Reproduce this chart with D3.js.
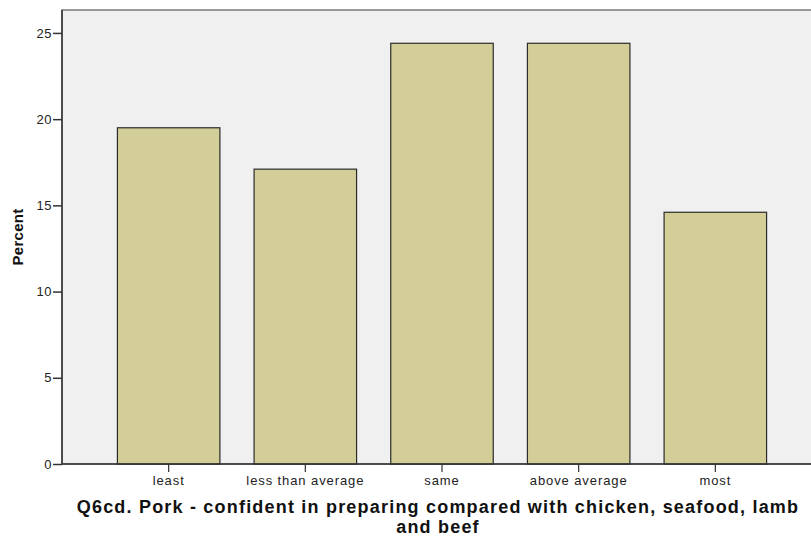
<!DOCTYPE html>
<html>
<head>
<meta charset="utf-8">
<script src="https://cdn.jsdelivr.net/npm/d3@7"></script>
<style>
  html, body { margin: 0; padding: 0; background: #fff; }
  svg { display: block; }
  text { font-family: "Liberation Sans", Arial, sans-serif; }
</style>
</head>
<body>
<svg id="chart" width="811" height="547"></svg>
<script>
const categories = ["least", "less than average", "same", "above average", "most"];
const percents = [19.5, 17.1, 24.4, 24.4, 14.6];
const yTicks = [0, 5, 10, 15, 20, 25];
const yTitle = "Percent";
const xTitleLines = ["Q6cd. Pork - confident in preparing compared with chicken, seafood, lamb", "and beef"];

const svg = d3.select("#chart");
const plot = { left: 62, top: 10, right: 820, bottom: 464 };

const x = d3.scaleBand().domain(categories).range([100.33, 783.67]).paddingInner(0.25).paddingOuter(0.125);
const y = d3.scaleLinear().domain([0, 26.33]).range([plot.bottom, plot.top]);

// plot background
svg.append("rect")
  .attr("x", plot.left).attr("y", plot.top)
  .attr("width", plot.right - plot.left).attr("height", plot.bottom - plot.top)
  .attr("fill", "#f0f0f0")
  .attr("stroke", "#7a7a7a").attr("stroke-width", 1.5);

// bars
svg.append("g").selectAll("rect").data(categories).join("rect")
  .attr("x", d => x(d))
  .attr("y", (d, i) => y(percents[i]))
  .attr("width", x.bandwidth())
  .attr("height", (d, i) => y(0) - y(percents[i]))
  .attr("fill", "#d3ce97")
  .attr("stroke", "#2b2b2b").attr("stroke-width", 1.2);

// y axis
const yAxis = svg.append("g").attr("transform", `translate(${plot.left},0)`)
  .call(d3.axisLeft(y).tickValues(yTicks).tickSize(9).tickPadding(1).tickFormat(d3.format("d")));
yAxis.select(".domain").attr("stroke", "#333").attr("stroke-width", 1.5).attr("d", `M0,${plot.top}V${plot.bottom}`);
yAxis.selectAll(".tick line").attr("stroke", "#333").attr("stroke-width", 1.5);
yAxis.selectAll(".tick text").attr("font-size", 13).attr("letter-spacing", 0.5).attr("fill", "#222")
  .attr("font-family", "Liberation Sans, Arial, sans-serif");

// x axis
const xAxis = svg.append("g").attr("transform", `translate(0,${plot.bottom})`)
  .call(d3.axisBottom(x).tickSize(8).tickPadding(4));
xAxis.select(".domain").attr("stroke", "#333").attr("stroke-width", 1.5).attr("d", `M${plot.left},0H${plot.right}`);
xAxis.selectAll(".tick line").attr("stroke", "#333").attr("stroke-width", 1.2);
xAxis.selectAll(".tick text").attr("font-size", 13).attr("letter-spacing", 0.9).attr("fill", "#222")
  .attr("font-family", "Liberation Sans, Arial, sans-serif");

// y title
svg.append("text")
  .attr("transform", `translate(23,${(plot.top + plot.bottom) / 2}) rotate(-90)`)
  .attr("text-anchor", "middle")
  .attr("font-size", 15).attr("font-weight", "bold").attr("letter-spacing", 0.3).attr("fill", "#111")
  .text(yTitle);

// x title
const xt = svg.append("text")
  .attr("text-anchor", "middle")
  .attr("font-size", 18).attr("font-weight", "bold").attr("letter-spacing", 1.2).attr("fill", "#111");
xTitleLines.forEach((line, i) => {
  xt.append("tspan").attr("x", 438).attr("y", 513 + i * 20).text(line);
});
</script>
</body>
</html>
